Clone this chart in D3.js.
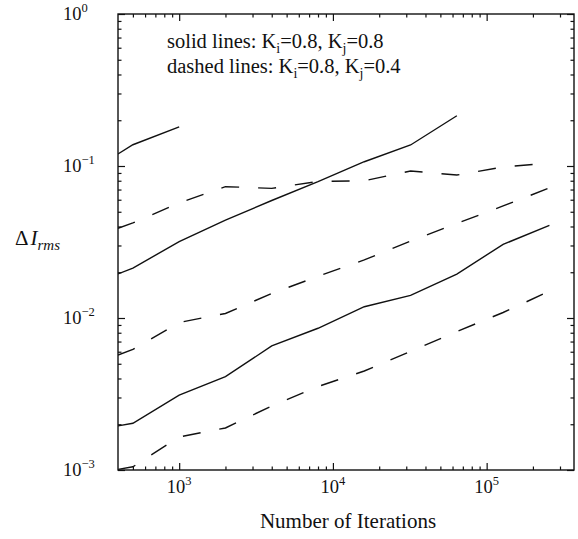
<!DOCTYPE html>
<html>
<head>
<meta charset="utf-8">
<script src="https://cdn.jsdelivr.net/npm/d3@7"></script>
<style>
  body { margin: 0; background: #fff; }
  svg { display: block; font-family: "Liberation Serif", "Times New Roman", serif; }
</style>
</head>
<body>
<div class="chart"></div>
<script>
// iterations at which the rms error was sampled
const iterations = [400, 500, 1000, 2000, 4000, 8000, 16000, 32000, 64000, 128000, 256000];

// solid lines: Ki=0.8, Kj=0.8
const solidTop = [0.120, 0.138, 0.181];
const solidMid = [0.0195, 0.0213, 0.0318, 0.0441, 0.0593, 0.0788, 0.1067, 0.1375, 0.214];
const solidLow = [0.00195, 0.00203, 0.00311, 0.00411, 0.00655, 0.00856, 0.01186, 0.01407, 0.01946, 0.0305, 0.0407];

// dashed lines: Ki=0.8, Kj=0.4
const dashedTop = [0.0389, 0.0422, 0.0571, 0.0731, 0.0713, 0.0791, 0.0800, 0.0927, 0.0872, 0.0985, 0.1047];
const dashedMid = [0.00571, 0.00621, 0.00934, 0.01071, 0.0145, 0.0188, 0.0241, 0.0321, 0.0419, 0.0546, 0.0717];
const dashedLow = [0.00101, 0.00105, 0.00165, 0.00189, 0.00264, 0.00354, 0.00448, 0.00602, 0.00815, 0.01087, 0.0150];

const xTickExps = [3, 4, 5];
const yTickExps = [0, -1, -2, -3];

const W = 578, H = 539;
const margin = { left: 118, right: 574, top: 14, bottom: 470 };

const svg = d3.select('.chart').append('svg')
    .attr('width', W)
    .attr('height', H);

const x = d3.scaleLog().domain([400, 370000]).range([margin.left, margin.right]);
const y = d3.scaleLog().domain([1e-3, 1]).range([margin.bottom, margin.top]);

const xMajor = xTickExps.map(e => Math.pow(10, e));
const yMajor = yTickExps.map(e => Math.pow(10, e));
const minorOf = scale => {
    const [a, b] = scale.domain();
    const out = [];
    for (let e = -4; e <= 6; e++) {
        for (let m = 2; m <= 9; m++) {
            const v = m * Math.pow(10, e);
            if (v > a && v < b) out.push(v);
        }
    }
    return out;
};
const xMinor = minorOf(x);
const yMinor = minorOf(y);

const ink = '#111';

function drawAxis(axisFn, scale, translate, majors, minors) {
    const g = svg.append('g').attr('transform', translate);
    g.append('g').call(axisFn(scale).tickValues(minors).tickSize(-3.5).tickSizeOuter(0).tickFormat(''));
    g.append('g').call(axisFn(scale).tickValues(majors).tickSize(-7).tickSizeOuter(0).tickFormat(''));
    g.selectAll('.domain').remove();
    g.selectAll('.tick line').attr('stroke', ink).attr('stroke-width', 1.2);
    return g;
}

drawAxis(d3.axisBottom, x, `translate(0,${margin.bottom})`, xMajor, xMinor);
drawAxis(d3.axisTop, x, `translate(0,${margin.top})`, xMajor, xMinor);
drawAxis(d3.axisLeft, y, `translate(${margin.left},0)`, yMajor, yMinor);
drawAxis(d3.axisRight, y, `translate(${margin.right},0)`, yMajor, yMinor);

// frame
svg.append('rect')
    .attr('x', margin.left).attr('y', margin.top)
    .attr('width', margin.right - margin.left).attr('height', margin.bottom - margin.top)
    .attr('fill', 'none')
    .attr('stroke', ink)
    .attr('stroke-width', 1.4);

const expText = e => (e < 0 ? '\u2212' : '') + Math.abs(e);

// x tick labels
const xl = svg.append('g').selectAll('text').data(xTickExps).enter().append('text')
    .attr('x', d => x(Math.pow(10, d)))
    .attr('y', 493)
    .attr('text-anchor', 'middle')
    .attr('font-size', 18.5)
    .attr('fill', ink);
xl.append('tspan').text('10');
xl.append('tspan').attr('dy', -8).attr('font-size', 12.5).text(d => expText(d));

// y tick labels
const yl = svg.append('g').selectAll('text').data(yTickExps).enter().append('text')
    .attr('x', 63)
    .attr('y', d => y(Math.pow(10, d)) + 6)
    .attr('font-size', 18.5)
    .attr('fill', ink);
yl.append('tspan').text('10');
yl.append('tspan').attr('dy', -8).attr('font-size', 12.5).text(d => expText(d));

// axis titles
svg.append('text')
    .attr('x', 348).attr('y', 528)
    .attr('text-anchor', 'middle')
    .attr('font-size', 21)
    .attr('fill', ink)
    .text('Number of Iterations');

const yt = svg.append('text')
    .attr('x', 15).attr('y', 245)
    .attr('font-size', 21)
    .attr('fill', ink);
yt.append('tspan').text('\u0394');
yt.append('tspan').attr('font-style', 'italic').attr('dx', 2).text('I');
yt.append('tspan').attr('font-style', 'italic').attr('font-size', 15).attr('dy', 5).text('rms');

// legend text
const legendRows = [
    { y: 48, label: 'solid lines: K', kj: '0.8' },
    { y: 73, label: 'dashed lines: K', kj: '0.4' }
];
legendRows.forEach(r => {
    const t = svg.append('text')
        .attr('x', 167).attr('y', r.y)
        .attr('font-size', 20.5)
        .attr('fill', ink);
    t.append('tspan').text(r.label);
    t.append('tspan').attr('dy', 5).attr('font-size', 14).text('i');
    t.append('tspan').attr('dy', -5).text('=0.8, K');
    t.append('tspan').attr('dy', 5).attr('font-size', 14).text('j');
    t.append('tspan').attr('dy', -5).text('=' + r.kj);
});

// lines
svg.append('clipPath').attr('id', 'plot-clip')
    .append('rect')
    .attr('x', margin.left).attr('y', margin.top)
    .attr('width', margin.right - margin.left).attr('height', margin.bottom - margin.top);

const series = [
    { values: solidTop, dashed: false },
    { values: solidMid, dashed: false },
    { values: solidLow, dashed: false },
    { values: dashedTop, dashed: true },
    { values: dashedMid, dashed: true },
    { values: dashedLow, dashed: true }
];

const line = d3.line()
    .x(d => x(d[0]))
    .y(d => y(d[1]));

svg.append('g')
    .attr('clip-path', 'url(#plot-clip)')
    .selectAll('path')
    .data(series)
    .enter()
    .append('path')
    .attr('d', s => line(s.values.map((v, i) => [iterations[i], v])))
    .attr('fill', 'none')
    .attr('stroke', ink)
    .attr('stroke-width', 1.4)
    .attr('stroke-dasharray', s => s.dashed ? '18,19' : null);
</script>
</body>
</html>
